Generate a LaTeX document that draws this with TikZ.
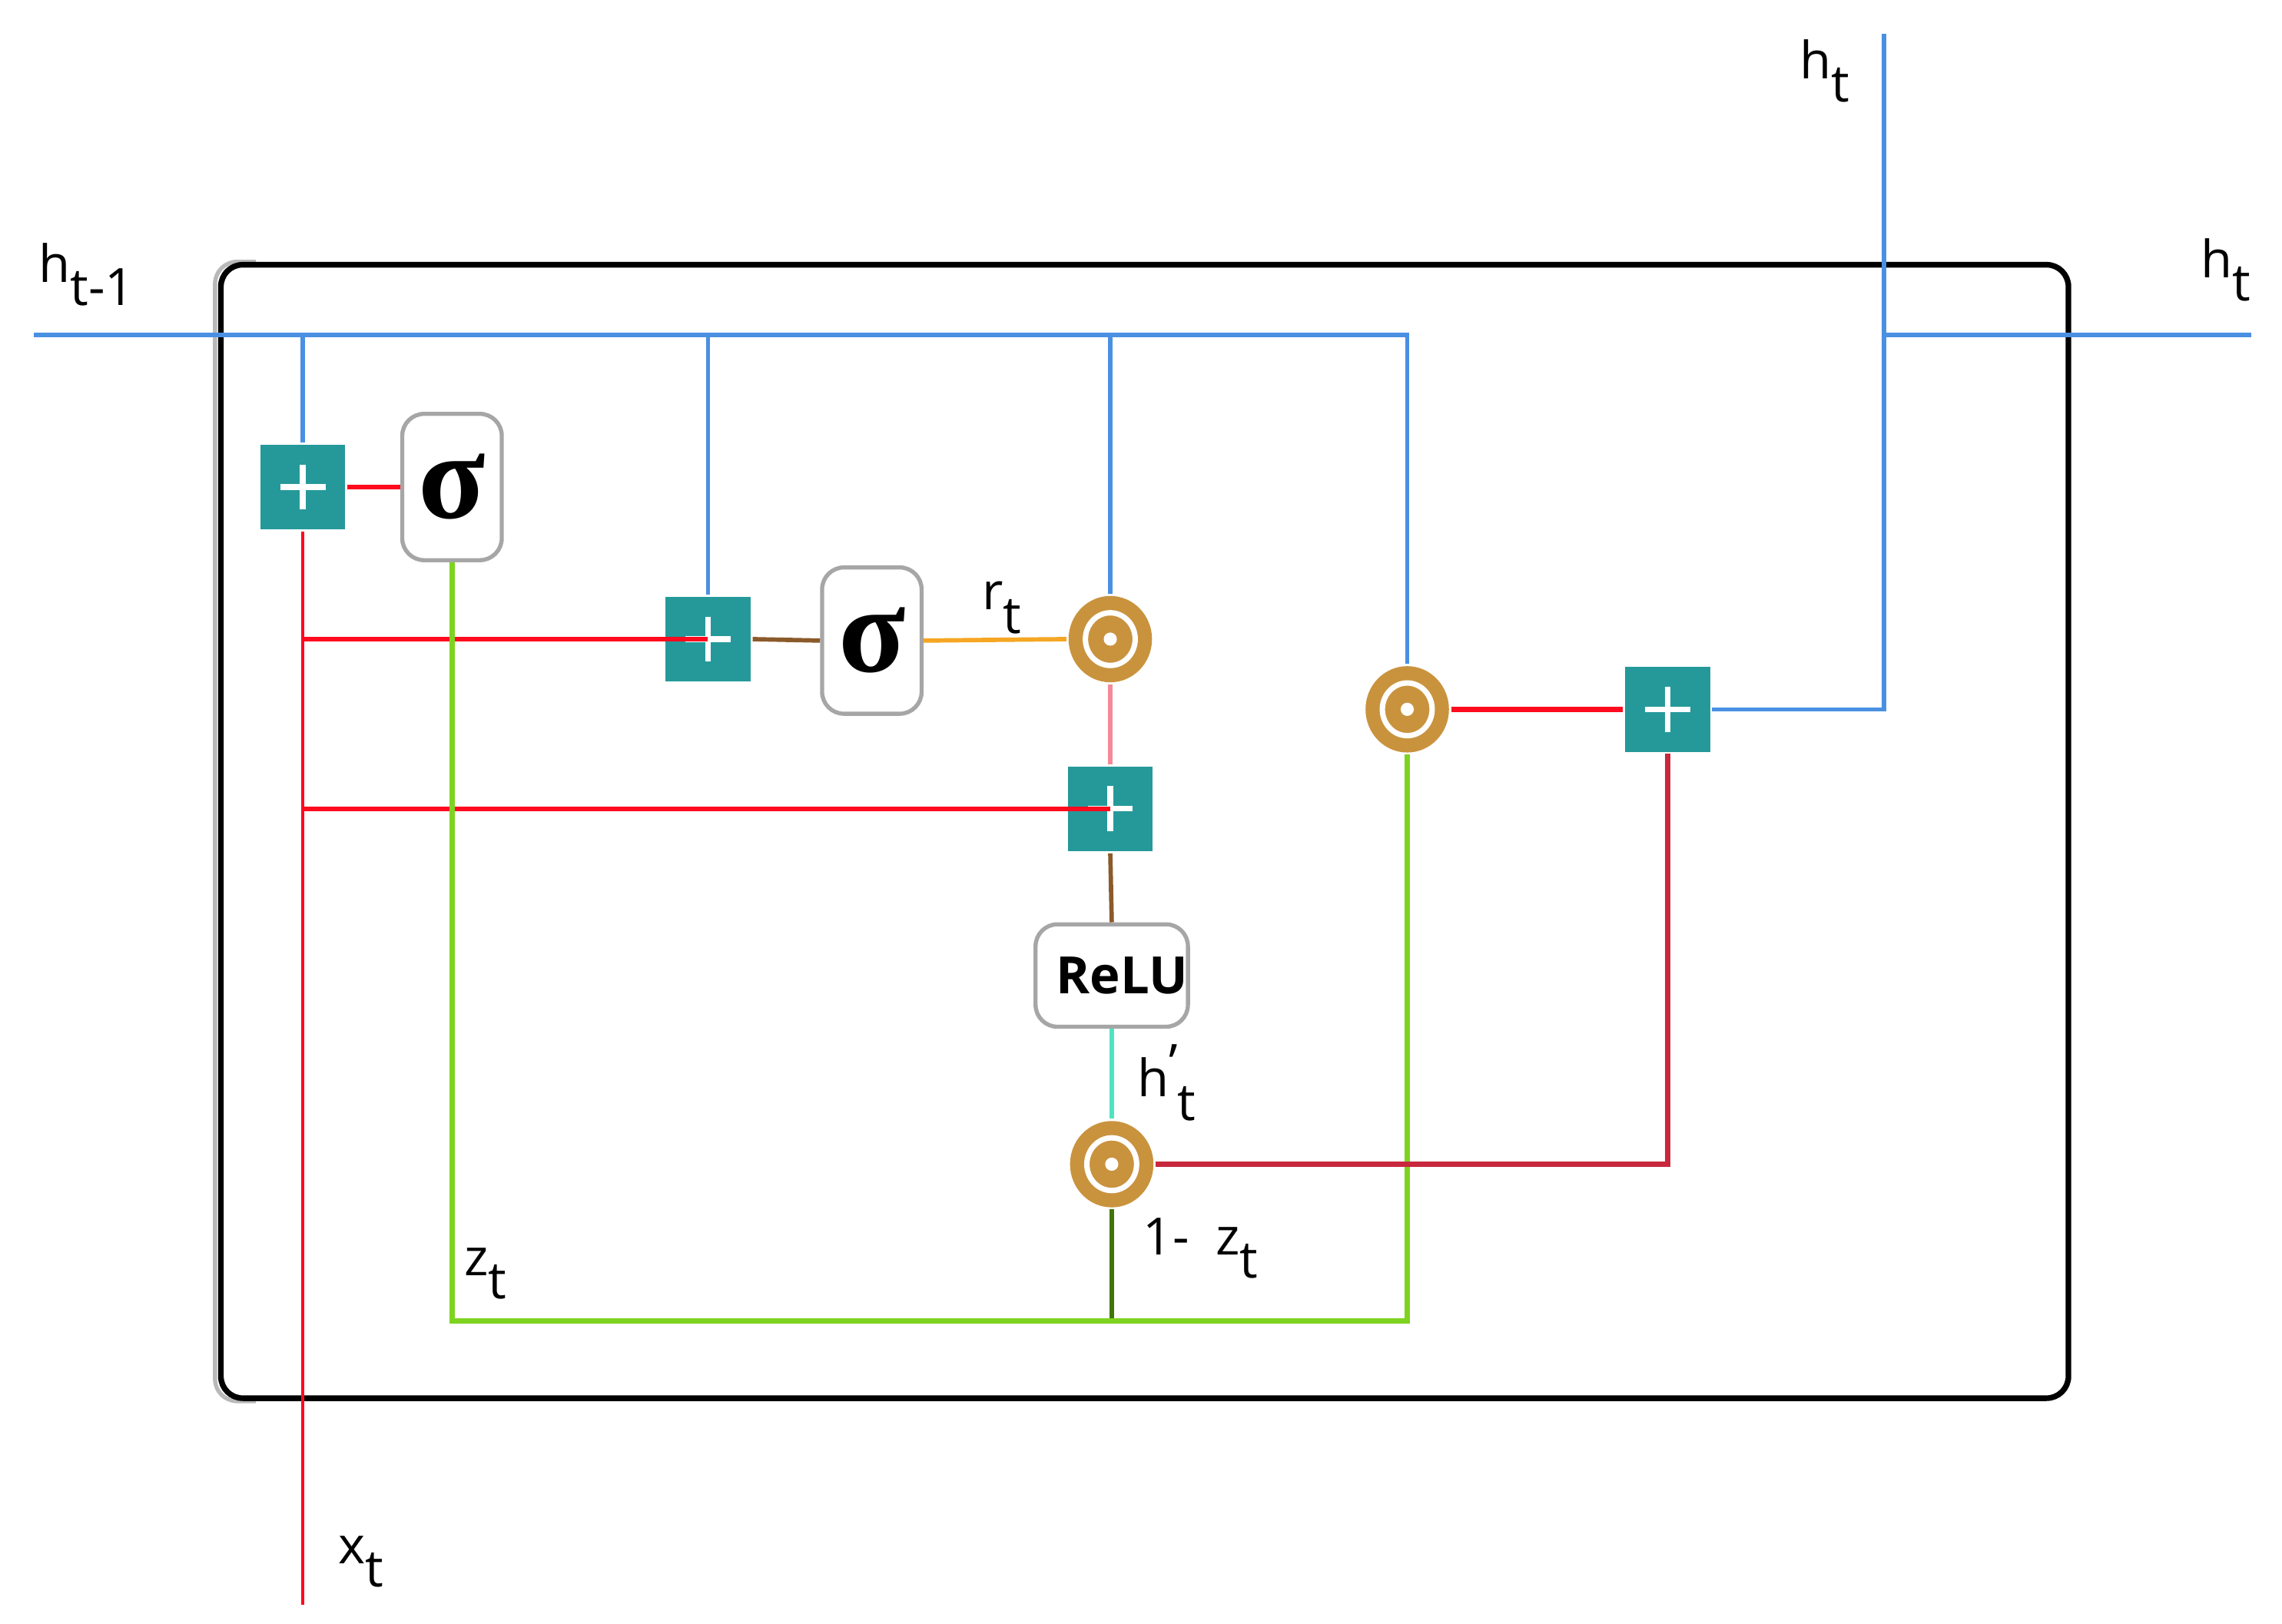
\documentclass[tikz,border=0pt]{standalone}
\usepackage{fontspec}
\setmainfont{Open Sans}
\newfontfamily\sigfont{Liberation Serif}
\usetikzlibrary{shapes.geometric,calc}
\definecolor{teal1}{HTML}{25999A}
\definecolor{gold1}{HTML}{C9933E}
\definecolor{hblue}{HTML}{4A90E2}
\definecolor{xred}{HTML}{FF0A1E}
\definecolor{crim}{HTML}{C8283E}
\definecolor{lgreen}{HTML}{7ED321}
\definecolor{dgreen}{HTML}{417505}
\definecolor{brown1}{HTML}{8B5A2B}
\definecolor{orange1}{HTML}{F5A623}
\definecolor{pink1}{HTML}{F4899A}
\definecolor{cyan1}{HTML}{50E3C2}
\newcommand\sig{{\sigfont\bfseries\fontsize{24}{24}\selectfont σ}}
\newcommand\sub[1]{\raisebox{-4.5pt}{#1}}
\begin{document}
\begin{tikzpicture}[x=0.01cm,y=-0.01cm,line width=0.85pt,
  plusbox/.style={rectangle, fill=teal1, minimum size=0.58cm, inner sep=0pt,
    path picture={
      \draw[white,line width=1.1pt] ([xshift=-4.4pt]path picture bounding box.center) -- ([xshift=4.4pt]path picture bounding box.center);
      \draw[white,line width=1.1pt] ([yshift=-4.4pt]path picture bounding box.center) -- ([yshift=4.4pt]path picture bounding box.center);}},
  odotnode/.style={ellipse, fill=gold1, minimum width=0.57cm, minimum height=0.59cm, inner sep=0pt,
    path picture={
      \draw[white,line width=1.05pt] (path picture bounding box.center) ellipse [x radius=0.17cm, y radius=0.18cm];
      \fill[white] (path picture bounding box.center) circle [radius=0.045cm];}},
  gatebox/.style={rectangle, draw=gray!70, fill=white, rounded corners=0.15cm, line width=0.8pt, inner sep=0pt},
  lbl/.style={anchor=base west, inner sep=0pt, font=\fontsize{10}{12}\selectfont},
  wblue/.style={draw=hblue, line width=0.85pt},
  wred/.style={draw=xred, line width=0.95pt}
]
\useasboundingbox (0,0) rectangle (1560,1110);
% outer cell
\draw[gray!55, line width=0.8pt, rounded corners=0.15cm] (175,179) -| (147,958) -- (175,958);
\draw[line width=1.1pt, rounded corners=0.15cm] (151,181) rectangle (1414,956);

% nodes
\node[plusbox] (p1) at (207,333) {};
\node[gatebox, minimum width=0.68cm, minimum height=1cm] (s1) at (309,333) {\sig};
\node[plusbox] (p2) at (484,437) {};
\node[gatebox, minimum width=0.68cm, minimum height=1cm] (s2) at (596,438) {\sig};
\node[odotnode] (o1) at (759,437) {};
\node[plusbox] (p3) at (759,553) {};
\node[gatebox, minimum width=0.99cm, minimum height=0.70cm] (relu) at (760,667) {\bfseries\fontsize{10}{12}\selectfont\hspace*{4pt}ReLU};
\node[odotnode] (o3) at (760,796) {};
\node[odotnode] (o2) at (962,485) {};
\node[plusbox] (p4) at (1140,485) {};

% coordinates
\coordinate (hin) at (23,229);
\coordinate (hj) at (962,229);
\coordinate (htop) at (1288,23);
\coordinate (hout) at (1539,229);
\coordinate (xin) at (207,1097);
\coordinate (zc) at (962,903);

% blue hidden-state lines
\draw[wblue] (hin) -- (hj) -- (o2.north);
\draw[wblue] (p1.north) -- (p1.north |- hin);
\draw[wblue] (p2.north) -- (p2.north |- hin);
\draw[wblue] (o1.north) -- (o1.north |- hin);
\draw[wblue] (p4.east) -| (htop);
\draw[wblue] (htop |- hout) -- (hout);

% input lines
\draw[draw=xred, line width=0.7pt] (xin) -- (p1.south);
\draw[wred] (xin |- p2) -- (p2.center);
\draw[wred] (xin |- p3) -- (p3.center);
\draw[wred] (p1.east) -- (s1.west);

% internal connectors
\draw[brown1] (p2.east) -- (s2.west);
\draw[orange1] (s2.east) -- (o1.west);
\draw[pink1] (o1.south) -- (p3.north);
\draw[brown1] (p3.south) -- (relu.north);
\draw[cyan1] (relu.south) -- (o3.north);
\draw[dgreen] (o3.south) -- (o3.south |- zc);
\draw[lgreen, line width=1pt] (s1.south) |- (zc) -- (o2.south);
\draw[xred, line width=0.95pt] (o2.east) -- (p4.west);
\draw[crim, line width=0.95pt] (o3.east) -| (p4.south);

% labels
\node[lbl] (lhin) at (25,193) {h\sub{t-1}};
\node[lbl] (lhtop) at (1229,54) {h\sub{t}};
\node[lbl] (lhout) at (1503,190) {h\sub{t}};
\node[lbl] (lxt) at (230,1069) {x\sub{t}};
\node[lbl] (lzt) at (316,872) {z\sub{t}};
\node[lbl] (lomz) at (780,858) {1- \ z\sub{t}};
\node[lbl] (lrt) at (670,417) {r\sub{t}};
\node[lbl] (lhp) at (776,750) {h\rlap{\raisebox{3pt}{’}}\sub{\,t}};
\end{tikzpicture}
\end{document}
